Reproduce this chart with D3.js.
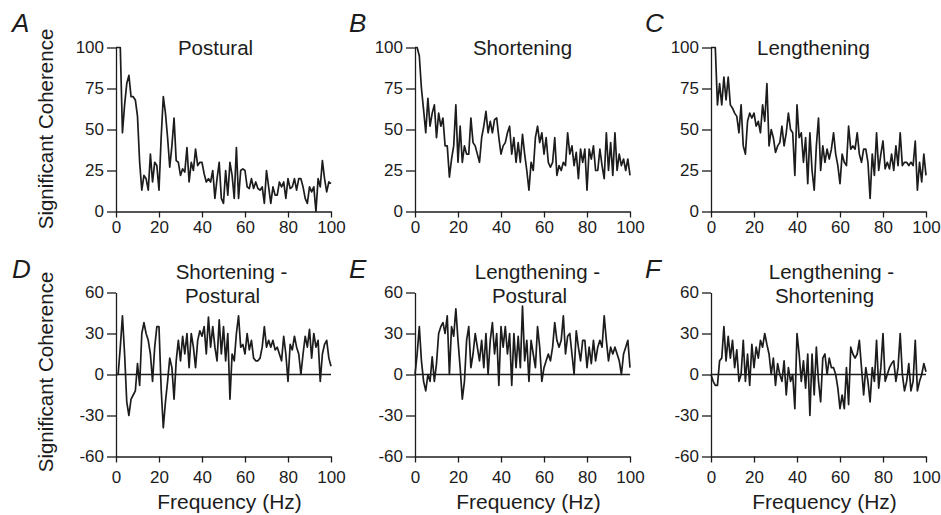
<!DOCTYPE html>
<html>
<head>
<meta charset="utf-8">
<script src="https://cdn.jsdelivr.net/npm/d3@7"></script>
<style>
  body { margin: 0; background: #fff; }
  svg { display: block; font-family: "Liberation Sans", Arial, Helvetica, sans-serif; }
</style>
</head>
<body>
<svg id="chart" width="941" height="515"></svg>
<script>
// frequency grid (Hz), one value per Hz
const freq = d3.range(0, 101);

// % significant coherence
const postural = [100,100,100,48,65,78,83,70,70,68, 58,30,13,22,20,13,35,18,30,28,
  13,45,70,60,45,27,40,57,31,30, 22,26,24,39,18,30,25,38,28,30,
  30,23,18,20,18,25,8,20,30,8, 5,25,10,30,22,8,39,8,25,26,
  25,15,14,20,14,18,14,13,15,5, 25,15,5,15,10,10,18,15,18,8,
  20,14,15,20,13,20,20,15,8,5, 15,12,15,0,20,15,31,20,12,18, 17];
const shortening = [100,100,95,75,62,48,69,52,60,65, 45,60,52,57,40,40,21,32,40,65,
  30,52,30,40,35,35,57,42,40,35, 30,45,52,61,48,55,48,56,57,45,
  35,40,42,48,52,35,45,30,42,30, 47,35,25,13,30,25,45,52,42,48,
  35,45,30,27,30,45,22,28,25,30, 28,48,35,40,28,36,20,38,30,38,
  13,38,32,40,25,25,38,28,20,48, 25,42,22,48,25,35,28,32,25,32, 22];
const lengthening = [100,100,100,65,78,65,82,68,82,65, 63,60,58,48,65,40,35,55,60,57,
  60,52,55,48,65,55,78,40,50,45, 36,40,42,52,40,48,60,50,48,22,
  65,45,48,30,45,17,48,25,13,40, 57,25,40,30,38,32,38,48,35,28,
  17,35,30,28,52,38,40,38,48,35, 30,38,38,30,8,35,22,48,25,35,
  43,26,30,26,35,25,40,28,48,28, 30,30,28,30,28,43,13,30,18,35, 22];
const shortMinusPostural = [0,0,20,43,15,-20,-30,-18,-15,-12, 8,-8,30,38,30,25,15,-5,20,35,
  35,-10,-39,-20,-5,12,5,-18,10,25, 10,28,15,30,5,30,20,5,25,32,
  28,35,15,42,20,35,20,10,40,15, 35,10,30,-18,15,10,30,43,20,22,
  15,30,18,25,12,10,10,12,20,35, 20,25,20,25,18,20,15,10,28,15,
  -5,22,18,28,20,15,0,15,28,20, 33,12,30,20,25,-5,15,22,25,12, 6];
const lengMinusPostural = [0,15,35,10,-5,-12,0,-5,13,-5, 8,30,35,38,30,43,0,35,28,48,
  25,5,-18,-5,25,35,5,15,30,20, 10,25,5,30,0,25,38,15,30,-8,
  35,20,35,15,30,-8,30,5,28,5, 50,10,25,-5,25,15,5,35,20,-5,
  5,10,15,10,20,38,25,20,25,43, 15,28,30,15,0,32,20,10,25,25,
  5,20,8,25,10,20,25,20,43,25, 10,20,15,20,15,10,0,15,20,25, 5];
const lengMinusShort = [0,-5,-8,-8,10,12,35,10,28,12, 25,5,18,-5,0,25,-5,15,-8,22,
  5,20,12,25,20,30,22,15,0,12, -8,8,0,-5,10,-15,5,-5,0,-25,
  30,15,-5,10,-10,15,-30,15,-15,20, -5,-20,12,15,0,12,5,5,0,-10,
  -25,-15,-25,5,-22,20,15,12,15,25, 5,-15,5,-5,-20,5,-5,25,-10,5,
  30,-5,0,5,8,10,-5,5,30,0, -12,-5,8,-12,-5,25,-12,-5,0,8, 2];

const freqTicks = [0, 20, 40, 60, 80, 100];
const cohTicks = [0, 25, 50, 75, 100];
const diffTicks = [-60, -30, 0, 30, 60];

const panels = [
  { letter: 'A', title: ['Postural'], values: postural, row: 0, col: 0 },
  { letter: 'B', title: ['Shortening'], values: shortening, row: 0, col: 1 },
  { letter: 'C', title: ['Lengthening'], values: lengthening, row: 0, col: 2 },
  { letter: 'D', title: ['Shortening -', 'Postural'], values: shortMinusPostural, row: 1, col: 0 },
  { letter: 'E', title: ['Lengthening -', 'Postural'], values: lengMinusPostural, row: 1, col: 1 },
  { letter: 'F', title: ['Lengthening -', 'Shortening'], values: lengMinusShort, row: 1, col: 2 }
];

// layout
const colX = [116, 415, 711];
const plotW = 215;
const rowTop = [47.5, 292.5];
const plotH = 164;
const ink = '#1c1c1c';

const svg = d3.select('#chart');

// title placement tweaks (offset from plot centre, per line)
const titleDx = [[-8], [0], [-5], [8, -1], [15, 7], [13, 6]];

panels.forEach((p, i) => {
  const x0 = colX[p.col], y0 = rowTop[p.row];
  const g = svg.append('g').attr('transform', `translate(${x0},${y0})`);

  const x = d3.scaleLinear().domain([0, 100]).range([0, plotW]);
  const y = d3.scaleLinear()
    .domain(p.row === 0 ? [0, 100] : [-60, 60])
    .range([plotH, 0]);

  // x axis
  const xa = g.append('g')
    .attr('transform', `translate(0,${plotH})`)
    .call(d3.axisBottom(x).tickValues(freqTicks).tickSize(6).tickSizeOuter(0)
      .tickPadding(p.row === 0 ? 3 : 8));
  // y axis
  const ya = g.append('g')
    .call(d3.axisLeft(y).tickValues(p.row === 0 ? cohTicks : diffTicks)
      .tickFormat(d => String(d)).tickSize(9).tickSizeOuter(0).tickPadding(3));

  [xa, ya].forEach(a => {
    a.selectAll('path, line').attr('stroke', ink).attr('stroke-width', 1.3);
    a.selectAll('text').attr('fill', ink).attr('font-size', '17px')
      .attr('font-family', '"Liberation Sans", Arial, sans-serif');
  });

  // zero reference line in difference plots
  if (p.row === 1) {
    g.append('line')
      .attr('x1', x(0)).attr('x2', x(100))
      .attr('y1', y(0)).attr('y2', y(0))
      .attr('stroke', ink).attr('stroke-width', 1.5);
  }

  const line = d3.line()
    .x((d, j) => x(freq[j]))
    .y(d => y(d));

  g.append('path')
    .datum(p.values)
    .attr('d', line)
    .attr('fill', 'none')
    .attr('stroke', ink)
    .attr('stroke-width', 1.7)
    .attr('stroke-linejoin', 'round');

  // title
  const cx = plotW / 2;
  p.title.forEach((t, k) => {
    svg.append('text')
      .attr('x', x0 + cx + titleDx[i][k])
      .attr('y', p.row === 0 ? 55 : 279 + k * 24)
      .attr('text-anchor', 'middle')
      .attr('font-size', '20.5px')
      .attr('fill', ink)
      .text(t);
  });

  // panel letter
  svg.append('text')
    .attr('x', x0 - [104, 66, 66][p.col])
    .attr('y', p.row === 0 ? 32 : 278)
    .attr('font-size', '26px')
    .attr('font-style', 'italic')
    .attr('fill', ink)
    .text(p.letter);

  // frequency label on bottom row
  if (p.row === 1) {
    svg.append('text')
      .attr('x', x0 + cx + 6)
      .attr('y', 509)
      .attr('text-anchor', 'middle')
      .attr('font-size', '21px')
      .attr('fill', ink)
      .text('Frequency (Hz)');
  }
});

// shared y labels
[129, 372].forEach(cy => {
  svg.append('text')
    .attr('transform', `translate(53,${cy}) rotate(-90)`)
    .attr('text-anchor', 'middle')
    .attr('font-size', '20.5px')
    .attr('fill', ink)
    .text('Significant Coherence');
});
</script>
</body>
</html>
